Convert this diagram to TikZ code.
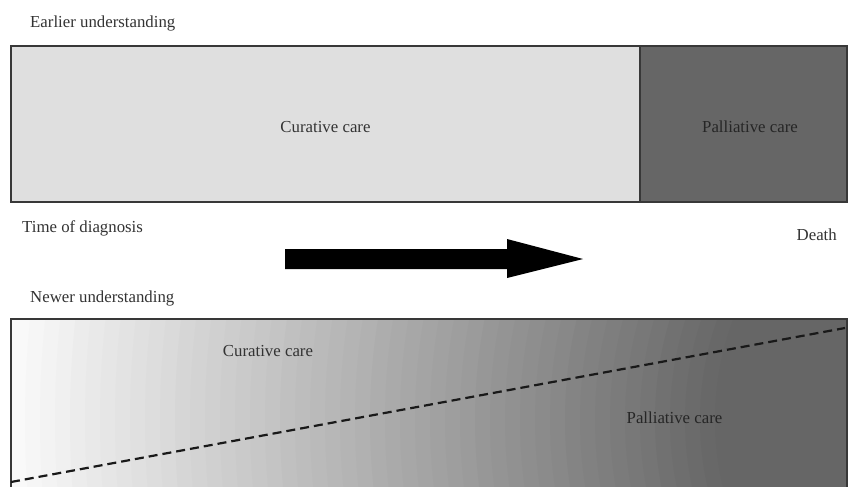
\documentclass[tikz,border=0pt]{standalone}
\usepackage{fontspec}
\setmainfont{Liberation Serif}
\definecolor{curfill}{HTML}{DFDFDF}
\definecolor{palfill}{HTML}{666666}
\begin{document}
\begin{tikzpicture}[x=1pt,y=-1pt,
  lbl/.style={font=\fontsize{16.8}{20}\selectfont, text=black!80, inner sep=0pt},
  frame/.style={draw=black!78, line width=1.4pt},
  divide/.style={dash pattern=on 9pt off 5pt, line width=2.2pt, draw=black!90}]
\clip (0,0) rectangle (849,487);
\fill[white] (0,0) rectangle (849,487);

% ---- earlier understanding: two separate phases
\node[lbl, anchor=base west] (earlier) at (30,28) {Earlier understanding};
\fill[curfill] (11,46) rectangle (640,202);
\fill[palfill] (640,46) rectangle (847,202);
\draw[frame] (11,46) rectangle (847,202);
\draw[frame] (640,46) -- (640,202);
\node[lbl, anchor=base] (curA) at (325.5,132) {Curative care};
\node[lbl, anchor=base, text=black!85] (palA) at (750,132) {Palliative care};

% ---- time axis
\node[lbl, anchor=base west] (diag) at (22,232) {Time of diagnosis};
\node[lbl, anchor=base east] (death) at (837,240) {Death};
\fill[black] (285,249) -- (507,249) -- (507,239) -- (583,259)
  -- (507,278) -- (507,269) -- (285,269) -- cycle;

% ---- newer understanding: gradual transition
\node[lbl, anchor=base west] (newer) at (30,302) {Newer understanding};
\begin{scope}
  \clip (11,319) rectangle (847,500);
  \foreach \r in {1065,1050,...,0} {
    \pgfmathsetmacro\g{min(98,max(40,40+0.0824*(\r-290)))}
    \fill[white!\g!black] (1000,420) circle[radius=\r pt];
  }
\end{scope}
\draw[frame] (11,500) -- (11,319) -- (847,319) -- (847,500);
\coordinate (dashL) at (11,482);
\coordinate (dashR) at (845,328);
\draw[divide] (dashL) -- (dashR);
\node[lbl, anchor=base] (curB) at (268,356) {Curative care};
\node[lbl, anchor=base, text=black!85] (palB) at (674.5,423) {Palliative care};
\end{tikzpicture}
\end{document}
